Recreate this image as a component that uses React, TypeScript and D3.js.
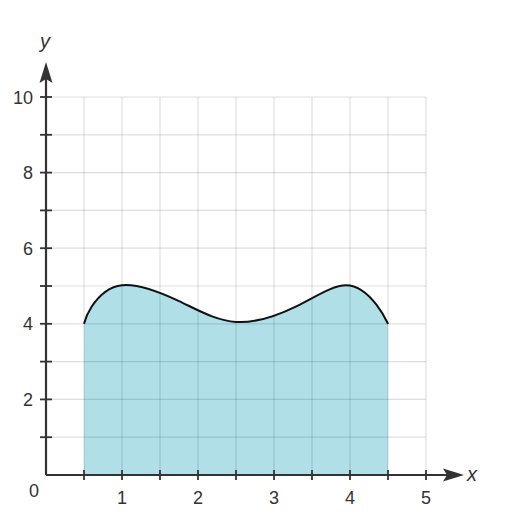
import React from "react";
import * as d3 from "d3";

const curveX = [0.5, 0.6, 1, 1.75, 2.5, 3.3, 3.95, 4.35, 4.5];
const curveY = [4, 4.45, 5.02, 4.6, 4.05, 4.47, 5.02, 4.5, 4];
const xTickLabels = [1, 2, 3, 4, 5];
const yTickLabels = [2, 4, 6, 8, 10];

export default function App() {
  const W = 510, H = 524;
  const x = d3.scaleLinear().domain([0, 5]).range([46, 426]);
  const y = d3.scaleLinear().domain([0, 10]).range([475, 97]);
  const pts: [number, number][] = curveX.map((v, i) => [v, curveY[i]]);
  const curve = d3.curveNatural;
  const line = d3.line<[number, number]>().x(d => x(d[0])).y(d => y(d[1])).curve(curve);
  const area = d3.area<[number, number]>().x(d => x(d[0])).y0(y(0)).y1(d => y(d[1])).curve(curve);
  const xGrid = d3.range(1, 11).map(i => i * 0.5);
  const yGrid = d3.range(1, 11);
  const xTicks = d3.range(1, 11).map(i => i * 0.5);
  const yTicks = d3.range(1, 11);
  const axisColor = "#333";
  const font = "'Liberation Sans', Arial, sans-serif";
  return (
    <svg width={W} height={H} style={{ position: "absolute", left: 0, top: 0, background: "#fff" }}>
      <path d={area(pts) || ""} fill="#b0dfe8" />
      <g stroke="#000" strokeOpacity={0.13} strokeWidth={1.2}>
        {xGrid.map(v => <line key={"gx" + v} x1={x(v)} x2={x(v)} y1={y(0)} y2={y(10)} />)}
        {yGrid.map(v => <line key={"gy" + v} x1={x(0)} x2={x(5)} y1={y(v)} y2={y(v)} />)}
      </g>
      <path d={line(pts) || ""} fill="none" stroke="#111" strokeWidth={2} />
      <line x1={x(0)} x2={452} y1={y(0)} y2={y(0)} stroke={axisColor} strokeWidth={2.2} />
      <line x1={x(0)} x2={x(0)} y1={y(0)} y2={75} stroke={axisColor} strokeWidth={2.2} />
      <path d={`M464,${y(0)} L443,${y(0) - 6.5} L447,${y(0)} L443,${y(0) + 6.5} Z`} fill={axisColor} />
      <path d={`M${x(0)},62 L${x(0) - 6.5},83 L${x(0)},79 L${x(0) + 6.5},83 Z`} fill={axisColor} />
      <g stroke={axisColor} strokeWidth={1.8}>
        {xTicks.map(v => <line key={"tx" + v} x1={x(v)} x2={x(v)} y1={y(0) - 5} y2={y(0) + 5} />)}
        {yTicks.map(v => <line key={"ty" + v} x1={x(0) - 6} x2={x(0) + 6} y1={y(v)} y2={y(v)} />)}
      </g>
      <g fontFamily={font} fontSize={18} fill="#333">
        {xTickLabels.map(v => (
          <text key={"lx" + v} x={x(v)} y={504} textAnchor="middle">{v}</text>
        ))}
        {yTickLabels.map(v => (
          <text key={"ly" + v} x={33} y={y(v) + 6.5} textAnchor="end">{v}</text>
        ))}
        <text x={34} y={497} textAnchor="middle">0</text>
        <text x={472} y={481} fontStyle="italic" fontSize={20} textAnchor="middle">x</text>
        <text x={45} y={48} fontStyle="italic" fontSize={20} textAnchor="middle">y</text>
      </g>
    </svg>
  );
}
